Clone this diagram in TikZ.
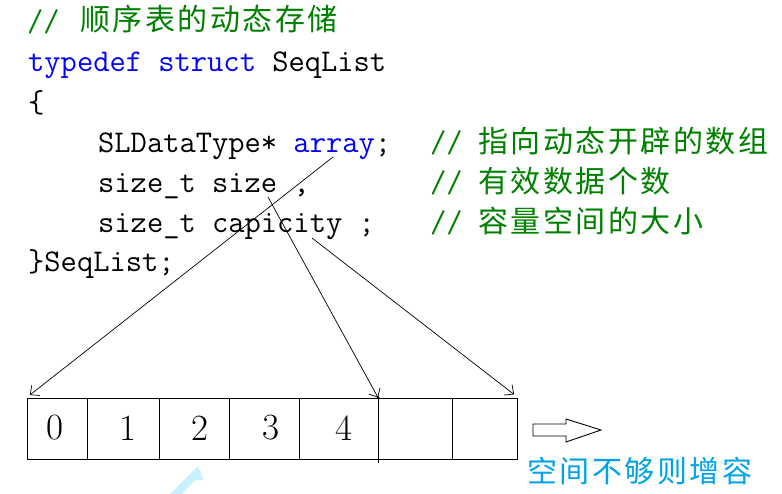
\documentclass[tikz,border=0pt]{standalone}
\usepackage{fontspec}
\newfontfamily\cjk{Noto Sans CJK SC}
\usetikzlibrary{arrows.meta}
\definecolor{cgreen}{RGB}{0,128,0}
\definecolor{kblue}{RGB}{0,0,255}
\definecolor{paintblue}{RGB}{0,162,232}
\definecolor{lightcyan}{RGB}{200,240,255}
\newcommand\cb[1]{\makebox[32.5pt][c]{#1}}
\begin{document}
\begin{tikzpicture}[x=1pt,y=-1pt,
 code/.style={anchor=base west,inner sep=0pt,font=\ttfamily\fontsize{31.6}{31.6}\selectfont},
 cmt/.style={code,text=cgreen},
 cjktext/.style={anchor=base west,inner sep=0pt,font=\cjk\fontsize{30}{30}\selectfont},
 cellbox/.style={draw,line width=1pt,anchor=west,minimum height=61pt,inner sep=0pt},
 digit/.style={inner sep=0pt,font=\fontsize{37}{37}\selectfont},
 pointer/.style={line width=0.7pt,-{Straight Barb[length=7pt,width=13pt]}}]
\useasboundingbox (0,0) rectangle (782,494);
% code lines
\node[cmt] (l1) at (27,32) {//};
\node[cjktext,text=cgreen] (l1c) at (79,31) {\cb{顺}\cb{序}\cb{表}\cb{的}\cb{动}\cb{态}\cb{存}\cb{储}};
\node[code] (l2) at (28,72) {\textcolor{kblue}{typedef struct} SeqList};
\node[code] (l3) at (28,113) {\{};
\node[code] (l4) at (98,153) {SLDataType* \textcolor{kblue}{array};};
\node[cmt] (l4m) at (430,153) {//};
\node[cjktext,text=cgreen] (l4c) at (477,153) {\cb{指}\cb{向}\cb{动}\cb{态}\cb{开}\cb{辟}\cb{的}\cb{数}\cb{组}};
\node[code] (l5) at (98,193) {size\_t size ,};
\node[cmt] (l5m) at (430,193) {//};
\node[cjktext,text=cgreen] (l5c) at (477,193) {\cb{有}\cb{效}\cb{数}\cb{据}\cb{个}\cb{数}};
\node[code] (l6) at (98,233) {size\_t capicity ;};
\node[cmt] (l6m) at (430,233) {//};
\node[cjktext,text=cgreen] (l6c) at (477,233) {\cb{容}\cb{量}\cb{空}\cb{间}\cb{的}\cb{大}\cb{小}};
\node[code] (l7) at (28,272) {\}SeqList;};
% pointer origins
\coordinate (arrayfoot) at (333,157);
\coordinate (sizefoot) at (268,197);
\coordinate (capfoot) at (312,238);
% cells
\node[cellbox,minimum width=60.3pt] (c0) at (26.7,428.5) {};
\node[cellbox,minimum width=72pt] (c1) at (87,428.5) {};
\node[cellbox,minimum width=70pt] (c2) at (159,428.5) {};
\node[cellbox,minimum width=70pt] (c3) at (229,428.5) {};
\node[cellbox,minimum width=79pt] (c4) at (299,428.5) {};
\node[cellbox,minimum width=74pt] (c5) at (378,428.5) {};
\node[cellbox,minimum width=65pt] (c6) at (452,428.5) {};
\draw[line width=1pt] (c5.south west) -- ++(0,3);
\fill (c5.north west) circle (1.5pt);
\node[digit] (d0) at (55,428) {0};
\node[digit] (d1) at (128,428) {1};
\node[digit] (d2) at (200,428) {2};
\node[digit] (d3) at (271,428) {3};
\node[digit] (d4) at (344,428) {4};
% pointers
\draw[pointer,shorten >=4pt] (arrayfoot) -- (c0.north west);
\draw[pointer] (sizefoot) -- (c5.north west);
\draw[pointer,shorten >=5pt] (capfoot) -- (c6.north east);
% grow arrow
\draw[line width=0.9pt] (533,424) -- (566,424) -- (566,419) -- (601,430) -- (566,442) -- (566,436) -- (533,436) -- cycle;
\node[cjktext,text=paintblue] (grow) at (526,482) {\cb{空}\cb{间}\cb{不}\cb{够}\cb{则}\cb{增}\cb{容}};
% partial light arrow
\fill[lightcyan] (198,466) -- (203.5,480) -- (195,480) -- (182,494) -- (170,494) -- cycle;
\end{tikzpicture}
\end{document}
